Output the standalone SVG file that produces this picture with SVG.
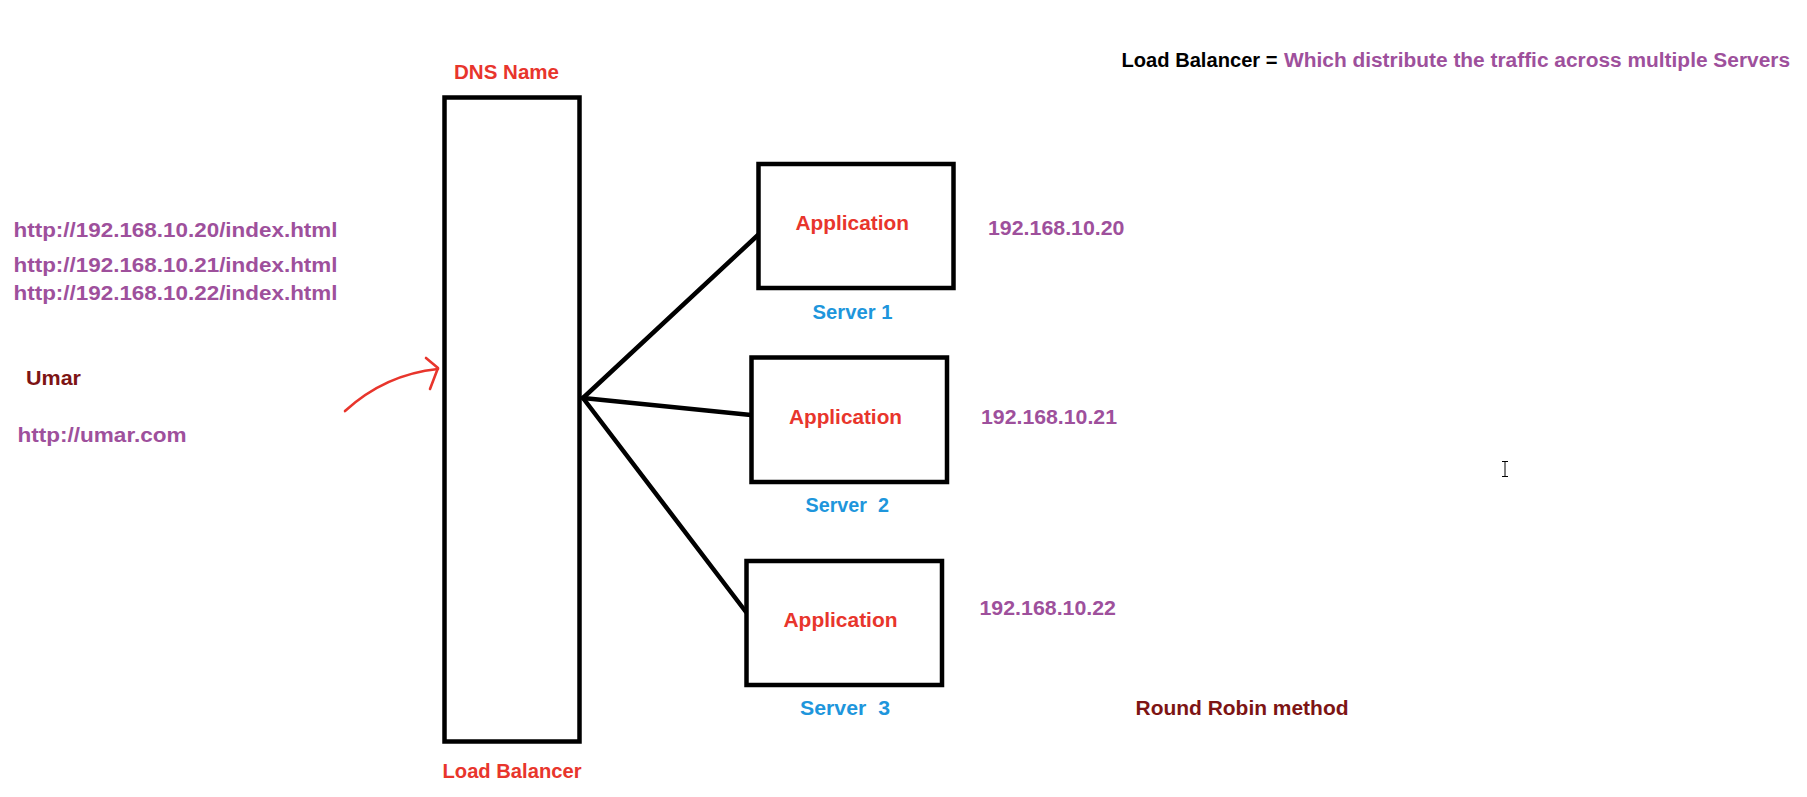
<svg xmlns="http://www.w3.org/2000/svg" width="1807" height="797" viewBox="0 0 1807 797">
<style>
text{font-family:"Liberation Sans",Arial,sans-serif;font-weight:bold;font-size:20px}
.box{fill:#fff;stroke:#000;stroke-width:4.5}
.red{fill:#e8352c}
.pur{fill:#9e509c}
.blue{fill:#1e96dc}
.dred{fill:#7d1414}
.blk{fill:#000}
.conn{stroke:#000;stroke-width:4.5;stroke-linecap:round;fill:none}
.arrow{stroke:#e8352c;stroke-width:2.6;fill:none;stroke-linecap:round;stroke-linejoin:round}
</style>
<rect width="1807" height="797" fill="#fff"/>

<g id="title">
<text class="blk" x="1121.5" y="67" font-size="19" textLength="156" lengthAdjust="spacingAndGlyphs">Load Balancer =</text>
<text class="pur" x="1284" y="67" font-size="19" textLength="506" lengthAdjust="spacingAndGlyphs">Which distribute the traffic across multiple Servers</text>
</g>

<g id="urls">
<text class="pur" x="13.5" y="236.5" font-size="21" textLength="324" lengthAdjust="spacingAndGlyphs">http://192.168.10.20/index.html</text>
<text class="pur" x="13.5" y="271.5" font-size="21" textLength="324" lengthAdjust="spacingAndGlyphs">http://192.168.10.21/index.html</text>
<text class="pur" x="13.5" y="300" font-size="21" textLength="324" lengthAdjust="spacingAndGlyphs">http://192.168.10.22/index.html</text>
</g>

<g id="user">
<text class="dred" x="26" y="385" textLength="55" lengthAdjust="spacingAndGlyphs">Umar</text>
<text class="pur" x="17.5" y="441.5" font-size="21" textLength="169" lengthAdjust="spacingAndGlyphs">http://umar.com</text>
<path class="arrow" d="M345,411 C368,390 398,373 438,369"/>
<path class="arrow" d="M426,358 L438,368 L430,389"/>
</g>

<g id="load-balancer">
<rect class="box" x="444.5" y="97.5" width="135" height="644"/>
<text class="red" x="454" y="79" textLength="105" lengthAdjust="spacingAndGlyphs">DNS Name</text>
<text class="red" x="442.5" y="778" textLength="139" lengthAdjust="spacingAndGlyphs">Load Balancer</text>
</g>

<g id="connectors">
<line class="conn" x1="583" y1="398" x2="758" y2="235"/>
<line class="conn" x1="583" y1="398" x2="751" y2="415"/>
<line class="conn" x1="583" y1="398" x2="746" y2="612"/>
</g>

<g id="server1">
<rect class="box" x="758.5" y="164" width="195" height="124"/>
<text class="red" x="795.5" y="229.5" textLength="113.5" lengthAdjust="spacingAndGlyphs">Application</text>
<text class="blue" x="812.5" y="318.5" textLength="80" lengthAdjust="spacingAndGlyphs">Server 1</text>
<text class="pur" x="988" y="234.5" textLength="136.5" lengthAdjust="spacingAndGlyphs">192.168.10.20</text>
</g>

<g id="server2">
<rect class="box" x="751.5" y="357.5" width="195.5" height="124.5"/>
<text class="red" x="789" y="423.5" textLength="113" lengthAdjust="spacingAndGlyphs">Application</text>
<text class="blue" x="805.5" y="511.5" xml:space="preserve" textLength="83.5" lengthAdjust="spacingAndGlyphs">Server  2</text>
<text class="pur" x="981" y="423.5" textLength="136" lengthAdjust="spacingAndGlyphs">192.168.10.21</text>
</g>

<g id="server3">
<rect class="box" x="746.5" y="561" width="195.5" height="124"/>
<text class="red" x="783.5" y="626.5" textLength="114" lengthAdjust="spacingAndGlyphs">Application</text>
<text class="blue" x="800" y="715" xml:space="preserve" textLength="90" lengthAdjust="spacingAndGlyphs">Server  3</text>
<text class="pur" x="979.5" y="615" textLength="136.5" lengthAdjust="spacingAndGlyphs">192.168.10.22</text>
</g>

<g id="note">
<text class="dred" x="1135.5" y="714.5" textLength="213" lengthAdjust="spacingAndGlyphs">Round Robin method</text>
</g>

<g id="cursor">
<path d="M1502,461.5 H1508 M1505,461.5 V476.5 M1502,476.5 H1508" stroke="#000" stroke-width="1" fill="none"/>
</g>
</svg>
